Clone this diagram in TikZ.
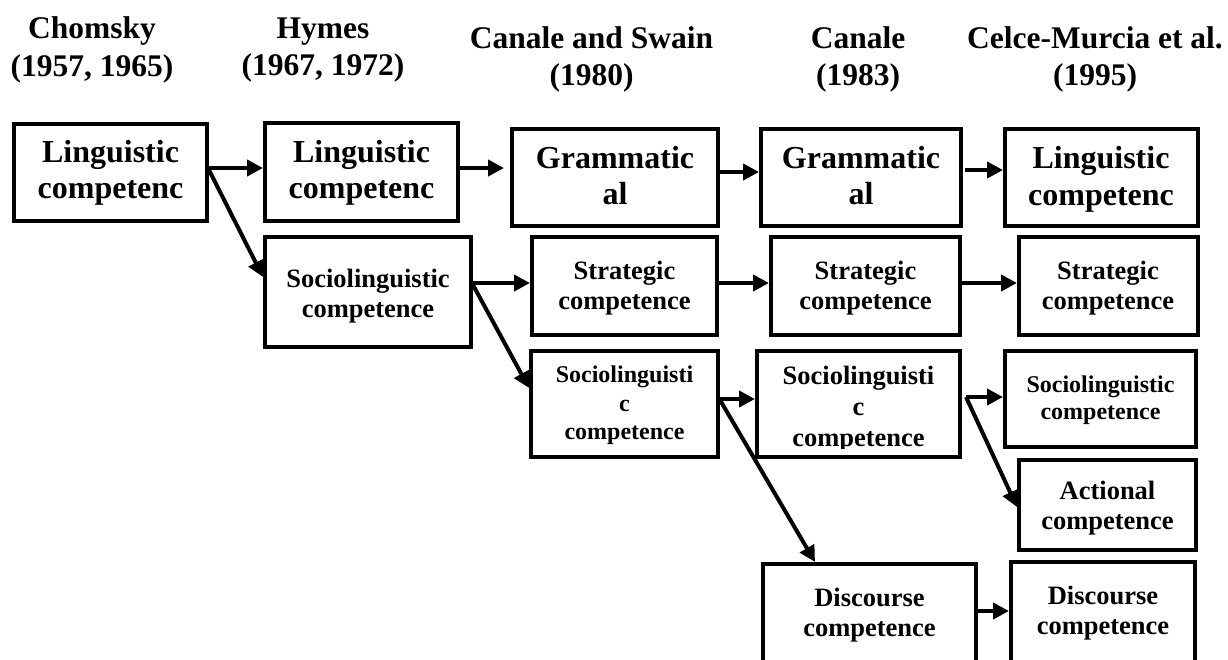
\documentclass[tikz,border=0pt]{standalone}
\usepackage{fontspec}
\setmainfont{Liberation Serif}
\usetikzlibrary{arrows.meta}
\begin{document}
\begin{tikzpicture}[x=1pt,y=-1pt,
  frame/.style={draw=black, line width=4pt, inner sep=0pt},
  head/.style={align=center, inner sep=0pt, font=\fontsize{31.5}{37.5}\selectfont\bfseries},
  txtL/.style={align=center, inner sep=0pt, font=\fontsize{32}{36}\selectfont\bfseries},
  txtM/.style={align=center, inner sep=0pt, font=\fontsize{26.5}{30}\selectfont\bfseries},
  txtS/.style={align=center, inner sep=0pt, font=\fontsize{24}{28}\selectfont\bfseries},
  link/.style={line width=4pt, -{Triangle[length=16pt,width=16pt]}}]
\clip (0,0) rectangle (1228,659);

% column headings
\node[head] (h1) at (92,50)     {Chomsky\\(1957, 1965)};
\node[head] (h2) at (323,50)    {Hymes\\(1967, 1972)};
\node[head] (h3) at (591.5,59.5){Canale and Swain\\(1980)};
\node[head] (h4) at (858,59.5)  {Canale\\(1983)};
\node[head] (h5) at (1095,59.5) {Celce-Murcia et al.\\(1995)};

% Chomsky
\node[frame, minimum width=193pt, minimum height=97pt] (chom) at (110.5,172.5) {};
\node[txtL] (chom-t) at (110.5,173) {Linguistic\\competenc};

% Hymes
\node[frame, minimum width=193pt, minimum height=98pt] (hling) at (361.5,172) {};
\node[txtL] (hling-t) at (361.5,173) {Linguistic\\competenc};
\node[frame, minimum width=206pt, minimum height=110pt] (hsoc) at (368,292) {};
\node[txtM] (hsoc-t) at (368,296) {Sociolinguistic\\competence};

% Canale and Swain
\node[frame, minimum width=206pt, minimum height=97pt] (csgram) at (615,177.5) {};
\node[txtL] (csgram-t) at (615,176) {Grammatic\\al};
\node[frame, minimum width=185pt, minimum height=98pt] (csstrat) at (624.5,286) {};
\node[txtM] (csstrat-t) at (624.5,288.5) {Strategic\\competence};
\node[frame, minimum width=187pt, minimum height=106pt] (cssoc) at (624.5,404) {};
\node[txtS, font=\fontsize{24}{28.5}\selectfont\bfseries] (cssoc-t) at (624.5,405.5) {Sociolinguisti\\c\\competence};

% Canale
\node[frame, minimum width=200pt, minimum height=97pt] (cangram) at (861,177.5) {};
\node[txtL] (cangram-t) at (861,176) {Grammatic\\al};
\node[frame, minimum width=189pt, minimum height=98pt] (canstrat) at (865.5,286) {};
\node[txtM] (canstrat-t) at (865.5,288.5) {Strategic\\competence};
\node[frame, minimum width=203pt, minimum height=106pt] (cansoc) at (858.5,404) {};
\begin{scope}
  \clip (755,349) rectangle (962,448);
  \node[txtM, font=\fontsize{26.5}{31}\selectfont\bfseries] (cansoc-t) at (858.5,409.5) {Sociolinguisti\\c\\competence};
\end{scope}
\node[frame, minimum width=213pt, minimum height=134pt] (candisc) at (869.5,631) {};
\node[txtM] (candisc-t) at (869.5,615.5) {Discourse\\competence};

% Celce-Murcia et al.
\node[frame, minimum width=193pt, minimum height=97pt] (celling) at (1101.5,177.5) {};
\node[txtL, font=\fontsize{32}{37}\selectfont\bfseries] (celling-t) at (1101,179) {Linguistic\\competenc};
\node[frame, minimum width=179pt, minimum height=98pt] (celstrat) at (1108.5,286) {};
\node[txtM] (celstrat-t) at (1108,288.5) {Strategic\\competence};
\node[frame, minimum width=191pt, minimum height=96pt] (celsoc) at (1100.5,399) {};
\node[txtS, font=\fontsize{24}{27}\selectfont\bfseries] (celsoc-t) at (1100.5,400.5) {Sociolinguistic\\competence};
\node[frame, minimum width=177pt, minimum height=90pt] (celact) at (1107.5,505) {};
\node[txtM] (celact-t) at (1107.5,508.5) {Actional\\competence};
\node[frame, minimum width=184pt, minimum height=136pt] (celdisc) at (1103,630) {};
\node[txtM] (celdisc-t) at (1103,613.5) {Discourse\\competence};

% connectors
\coordinate (fork) at ([xshift=4pt,yshift=7pt]cansoc.east);
\draw[link] ([yshift=4.5pt]chom.east) -- ([yshift=4pt]hling.west);
\draw[link] ([yshift=2.5pt]chom.east) -- ([yshift=15pt]hsoc.west);
\draw[link, shorten >=6pt] ([yshift=4pt]hling.east) -- ([yshift=9.5pt]csgram.west);
\draw[link] ([yshift=9pt]hsoc.east) -- ([yshift=3pt]csstrat.west);
\draw[link] ([yshift=7pt]hsoc.east) -- ([yshift=16pt]cssoc.west);
\draw[link] ([yshift=5.5pt]csgram.east) -- ([yshift=5.5pt]cangram.west);
\draw[link] ([yshift=3pt]csstrat.east) -- ([yshift=3pt]canstrat.west);
\draw[link] ([yshift=5pt]cssoc.east) -- ([yshift=5pt]cansoc.west);
\draw[link] ([yshift=4pt]cssoc.east) -- ([xshift=-54.5pt]candisc.north);
\draw[link, shorten <=2pt] ([yshift=7.5pt]cangram.east) -- ([yshift=7.5pt]celling.west);
\draw[link] ([yshift=3pt]canstrat.east) -- ([yshift=3pt]celstrat.west);
\draw[link] (fork) -- ([yshift=2pt]celsoc.west);
\draw[link] (fork) -- ([yshift=-2pt]celact.west);
\draw[link] ([yshift=20pt]candisc.east) -- ([yshift=19pt]celdisc.west);
\end{tikzpicture}
\end{document}
